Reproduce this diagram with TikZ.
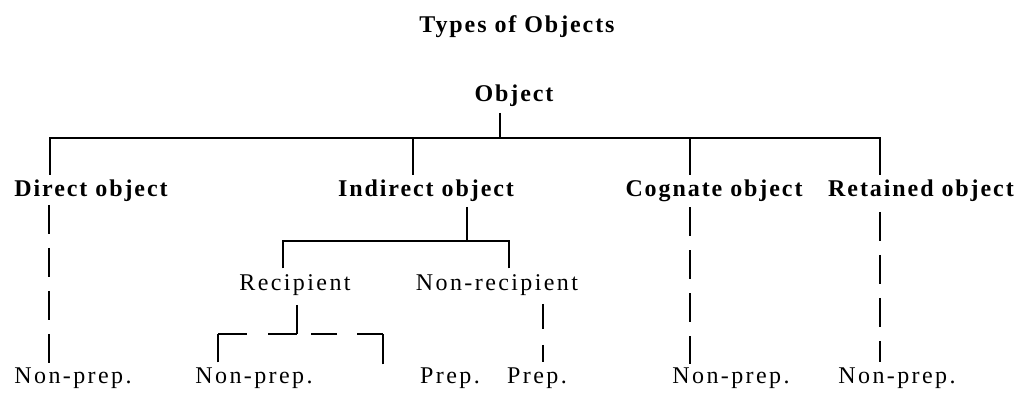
\documentclass[tikz,border=0pt]{standalone}
\usepackage{fontspec}
\setmainfont{Liberation Serif}
\newfontfamily\headfont[LetterSpace=8]{Liberation Serif}
\newfontfamily\leaffont[LetterSpace=10]{Liberation Serif}
\usepackage{tikz}

\begin{document}
\begin{tikzpicture}[x=1pt,y=-1pt,line width=1.7pt,
    head/.style={font=\headfont\bfseries\fontsize{24}{28}\selectfont,inner sep=0pt,anchor=base},
    leaf/.style={font=\leaffont\fontsize{24}{28}\selectfont,inner sep=0pt,anchor=base},
    vdashed/.style={dash pattern=on 29pt off 14pt}]
  \fill[white] (0,0) rectangle (1021,394);
  \useasboundingbox (0,0) rectangle (1021,394);

  % headings
  \node[head] (title) at (517,32)  {Types of Objects};
  \node[head] (obj)   at (514,101) {Object};
  \node[head] (dir)   at (91,196)  {Direct object};
  \node[head] (ind)   at (426,196) {Indirect object};
  \node[head] (cog)   at (714,196) {Cognate object};
  \node[head] (ret)   at (921,196) {Retained object};

  % second level
  \node[leaf] (rec)  at (295,290) {Recipient};
  \node[leaf] (nrec) at (497,290) {Non-recipient};

  % leaves
  \node[leaf] (npA) at (73,383)  {Non-prep.};
  \node[leaf] (npB) at (254,383) {Non-prep.};
  \node[leaf] (prA) at (450,383) {Prep.};
  \node[leaf] (prB) at (537,383) {Prep.};
  \node[leaf] (npC) at (731,383) {Non-prep.};
  \node[leaf] (npD) at (897,383) {Non-prep.};

  % branch points
  \coordinate (bar)  at (500,138);
  \coordinate (ibar) at (467,241);
  \coordinate (rbar) at (297,334);
  \coordinate (rl)   at (218,334);
  \coordinate (rr)   at (383,334);

  % object -> types
  \draw ([xshift=-14pt,yshift=-6pt]obj.south) -- (bar);
  \draw ([xshift=-41pt,yshift=4pt]dir.north) |- (bar);
  \draw ([xshift=-13pt,yshift=4pt]ind.north) |- (bar);
  \draw ([xshift=-24pt,yshift=4pt]cog.north) |- (bar);
  \draw ([xshift=-41pt,yshift=4pt]ret.north) |- (bar);

  % indirect object
  \draw ([xshift=41pt,yshift=-5pt]ind.south) -- (ibar);
  \draw ([xshift=-12pt,yshift=5pt]rec.north) |- (ibar);
  \draw ([xshift=12pt,yshift=5pt]nrec.north) |- (ibar);

  % recipient
  \draw ([xshift=2pt,yshift=-9pt]rec.south) -- (rbar);
  \draw[dash pattern=on 29pt off 21pt] (rl) -- (rbar);
  \draw[dash pattern=on 26pt off 20pt] (rr) -- (rbar);
  \draw ([xshift=-36pt,yshift=4pt]npB.north) -- (rl);
  \draw ([xshift=-67pt,yshift=2pt]prA.north) -- (rr);

  % dashed links to leaves
  \draw[vdashed] ([xshift=-42pt,yshift=-3pt]dir.south) -- ([xshift=-24pt,yshift=2pt]npA.north);
  \draw[vdashed] ([xshift=-24pt,yshift=-5pt]cog.south) -- ([xshift=-41pt,yshift=2pt]npC.north);
  \draw[vdashed] ([xshift=-41pt,yshift=-10pt]ret.south) -- ([xshift=-17pt,yshift=4pt]npD.north);
  \draw[dash pattern=on 25pt off 16pt] ([xshift=46pt,yshift=-8pt]nrec.south) -- ([xshift=6pt,yshift=4pt]prB.north);
\end{tikzpicture}
\end{document}
